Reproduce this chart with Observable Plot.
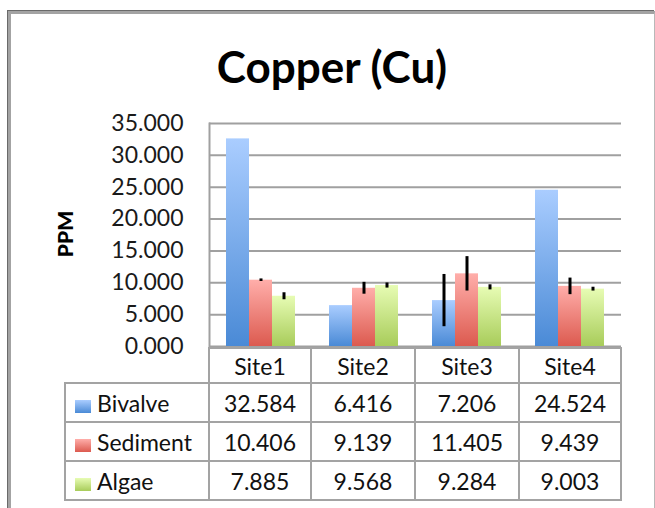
<!DOCTYPE html>
<html>
<head>
<meta charset="utf-8">
<script src="https://cdn.jsdelivr.net/npm/d3@7"></script>
<script src="https://cdn.jsdelivr.net/npm/@observablehq/plot@0.6"></script>
<style>
  html, body { margin: 0; padding: 0; background: #fff; overflow: hidden; }
  body { width: 655px; height: 508px; position: relative; font-family: Lato, "Open Sans", sans-serif; color: #111; }
  #frame { position: absolute; left: 8px; top: 11px; width: 643px; height: 520px;
           border-top: 3px solid #a3a3a3; border-left: 3px solid #a3a3a3; border-right: 1px solid #b8b8b8;
           box-shadow: -1px -1px 0 #6a6a6a; }
  #title { position: absolute; left: 0; top: 40px; width: 664px; text-align: center;
           font-weight: bold; font-size: 44px; line-height: 53px; color: #000; }
  #ylabel { position: absolute; left: 64px; top: 234px; transform: translate(-50%, -50%) rotate(-90deg);
            font-weight: 900; font-size: 21px; white-space: nowrap; color: #000; }
  #chart { position: absolute; left: 0; top: 100px; }
  #table { position: absolute; left: 64px; top: 347px; border-collapse: collapse; table-layout: fixed; }
  #table td { border: 2px solid #a3a3a3; text-align: center; font-size: 23px; padding: 0; color: #111; }
  #table td.blank { border-top: none; border-left: none; }
  #table td.lab { text-align: left; padding-left: 9px; white-space: nowrap; }
  #table tr.head td { height: 33px; }
  #table tr.body td { height: 37px; }
  .sw { display: inline-block; vertical-align: -1px; margin-right: 6px; }
</style>
</head>
<body>
<svg width="0" height="0" style="position:absolute">
  <defs>
    <linearGradient id="grad-Bivalve" x1="0" y1="0" x2="0" y2="1">
      <stop offset="0" stop-color="#aacdff"/><stop offset="1" stop-color="#4a8ad6"/>
    </linearGradient>
    <linearGradient id="grad-Sediment" x1="0" y1="0" x2="0" y2="1">
      <stop offset="0" stop-color="#ffaeaa"/><stop offset="1" stop-color="#dc5a4f"/>
    </linearGradient>
    <linearGradient id="grad-Algae" x1="0" y1="0" x2="0" y2="1">
      <stop offset="0" stop-color="#e7fcb4"/><stop offset="1" stop-color="#a8cc5a"/>
    </linearGradient>
  </defs>
</svg>
<div id="frame"></div>
<div id="title">Copper (Cu)</div>
<div id="ylabel">PPM</div>
<div id="chart"></div>
<table id="table"></table>
<script>
// ---- data ----
const sites = ["Site1", "Site2", "Site3", "Site4"];
const series = ["Bivalve", "Sediment", "Algae"];
const bivalve = [32.584, 6.416, 7.206, 24.524];
const sediment = [10.406, 9.139, 11.405, 9.439];
const algae = [7.885, 9.568, 9.284, 9.003];
const bivalveErr = [0, 0, 4.1, 0];
const sedimentErr = [0.2, 0.93, 2.7, 1.3];
const algaeErr = [0.55, 0.4, 0.4, 0.3];
const yTicks = [0, 5, 10, 15, 20, 25, 30, 35];
const tableLabels = ["32.584", "6.416", "7.206", "24.524", "10.406", "9.139", "11.405", "9.439", "7.885", "9.568", "9.284", "9.003"];

const values = [bivalve, sediment, algae];
const errs = [bivalveErr, sedimentErr, algaeErr];
const data = sites.flatMap((s, i) => series.map((k, j) => ({site: s, series: k, value: values[j][i], err: errs[j][i]})));

const chart = Plot.plot({
  width: 655, height: 258,
  marginTop: 23, marginBottom: 12, marginLeft: 208, marginRight: 34,
  style: {fontFamily: "Lato, 'Open Sans', sans-serif", fontSize: "23px", color: "#1a1a1a", background: "transparent", overflow: "visible"},
  fx: {domain: sites, padding: 0, axis: null, label: null},
  x: {domain: series, paddingInner: 0, paddingOuter: 0.71, axis: null},
  y: {domain: [0, 35], label: null},
  color: {domain: series, range: series.map(s => `url(#grad-${s})`)},
  marks: [
    Plot.ruleY(yTicks, {stroke: "#a0a0a0", strokeWidth: 2}),
    Plot.frame({anchor: "left", facetAnchor: "left", stroke: "#a0a0a0", strokeWidth: 2}),
    Plot.barY(data, {fx: "site", x: "series", y: "value", fill: "series"}),
    Plot.ruleX(data.filter(d => d.err > 0), {fx: "site", x: "series", y1: d => d.value - d.err, y2: d => d.value + d.err, stroke: "#000", strokeWidth: 3}),
    Plot.axisY({ticks: yTicks, tickFormat: d3.format(".3f"), tickSize: 0, tickPadding: 26, label: null, fill: "#1a1a1a"})
  ]
});
document.getElementById("chart").appendChild(chart);

// ---- data table ----
const table = document.getElementById("table");
const cg = document.createElement("colgroup");
[144, 102, 104, 104, 102].forEach(w => { const c = document.createElement("col"); c.style.width = w + "px"; cg.appendChild(c); });
table.appendChild(cg);
const head = document.createElement("tr");
head.className = "head";
head.innerHTML = `<td class="blank"></td>` + sites.map(s => `<td>${s}</td>`).join("");
table.appendChild(head);
series.forEach((k, j) => {
  const tr = document.createElement("tr");
  tr.className = "body";
  const sw = `<svg class="sw" width="16" height="13"><rect width="16" height="13" fill="url(#grad-${k})"/></svg>`;
  tr.innerHTML = `<td class="lab">${sw}${k}</td>` + sites.map((s, i) => `<td>${tableLabels[j * 4 + i]}</td>`).join("");
  table.appendChild(tr);
});
</script>
</body>
</html>
